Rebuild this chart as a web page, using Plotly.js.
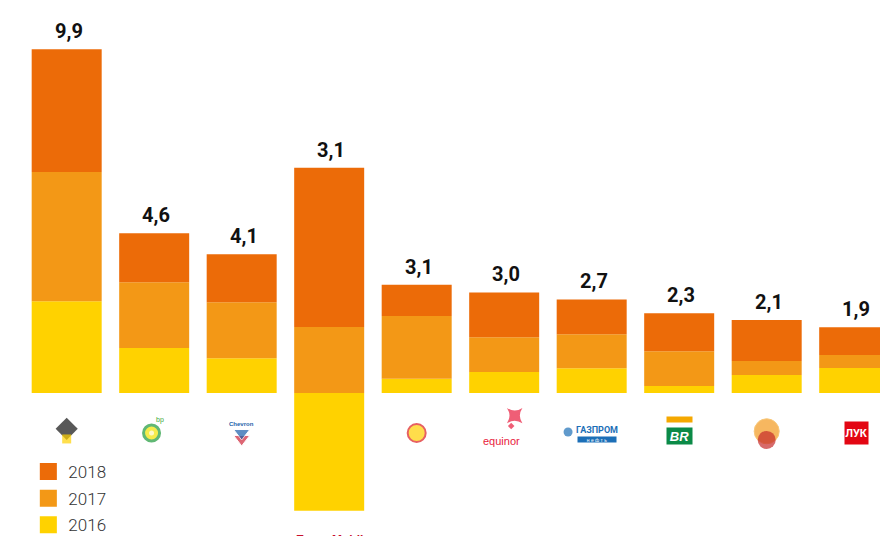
<!DOCTYPE html>
<html>
<head>
<meta charset="utf-8">
<script src="https://cdn.plot.ly/plotly-3.0.1.min.js"></script>
<style>html,body{margin:0;padding:0;background:#fff;}#chart{width:880px;height:536px;}</style>
</head>
<body>
<div id="chart"></div>
<script>
// ---- data ----
const companies = ["Роснефть", "BP", "Chevron", "ExxonMobil", "Shell", "Equinor", "Газпром нефть", "Petrobras", "PetroChina", "ЛУКОЙЛ"];
const years = ["2016", "2017", "2018"];
const v2016 = [2.64, 1.29, 1.00, -3.38, 0.41, 0.60, 0.71, 0.20, 0.52, 0.72];
const v2017 = [3.71, 1.89, 1.61, 1.90, 1.80, 1.00, 0.98, 1.00, 0.40, 0.37];
const v2018 = [3.53, 1.41, 1.38, 4.57, 0.90, 1.29, 1.00, 1.09, 1.18, 0.80];
const totals = [9.9, 4.6, 4.1, 3.1, 3.1, 3.0, 2.7, 2.3, 2.1, 1.9];

// ---- styles ----
const colors = {"2016": "#FFD200", "2017": "#F39816", "2018": "#EC6B08"};
const labelFont = 'Roboto, "Liberation Sans", sans-serif';
const LOGO_Y = -1.15;

const series = [v2016, v2017, v2018];
const ranks = {"2016": 3, "2017": 2, "2018": 1};
const traces = years.map((yr, k) => ({
  type: 'bar',
  name: yr,
  x: companies,
  y: series[k],
  marker: {color: colors[yr], line: {width: 0}},
  legendgroup: yr,
  legendrank: ranks[yr]
}));

// icon-like markers standing in for logos without text
const icons = [
  {c: 0, dy: 0.12, dx: 0, s: 'diamond', size: 17, color: '#111', lc: '#111', lw: 0},
  {c: 0, dy: -0.17, dx: 0, s: 'square', size: 9, color: '#FFD200', lc: '#FFD200', lw: 0},
  {c: 1, dy: 0, dx: -0.03, s: 'circle', size: 16, color: '#F2E400', lc: '#1E9B3A', lw: 3},
  {c: 1, dy: 0, dx: -0.03, s: 'circle', size: 5, color: '#ffffff', lc: '#ffffff', lw: 0},
  {c: 2, dy: -0.17, dx: 0, s: 'triangle-down', size: 14, color: '#D0263A', lc: '#ffffff', lw: 1},
  {c: 2, dy: 0.0, dx: 0, s: 'triangle-down', size: 14, color: '#1B5FAA', lc: '#ffffff', lw: 1},
  {c: 4, dy: 0, dx: 0, s: 'circle', size: 18, color: '#FFD000', lc: '#DD1D21', lw: 2},
  {c: 5, dy: 0.5, dx: 0.12, s: 'star-square', size: 14, color: '#E8193C', lc: '#E8193C', lw: 0},
  {c: 5, dy: 0.2, dx: 0.08, s: 'diamond', size: 5, color: '#E8193C', lc: '#E8193C', lw: 0},
  {c: 6, dy: 0.03, dx: -0.27, s: 'circle', size: 9, color: '#1C6FB7', lc: '#1C6FB7', lw: 0},
  {c: 8, dy: 0.05, dx: 0, s: 'circle', size: 25, color: '#F39A1E', lc: '#F6B040', lw: 1},
  {c: 8, dy: -0.2, dx: 0, s: 'circle', size: 18, color: '#C62B2B', lc: '#C62B2B', lw: 0}
];
traces.push({
  type: 'scatter', mode: 'markers', showlegend: false, hoverinfo: 'skip',
  x: icons.map(d => d.c + d.dx), xaxis: 'x2',
  y: icons.map(d => LOGO_Y + d.dy),
  marker: {symbol: icons.map(d => d.s), size: icons.map(d => d.size), color: icons.map(d => d.color),
           line: {color: icons.map(d => d.lc), width: icons.map(d => d.lw)}},
  cliponaxis: false
});

const fmt = v => v.toFixed(1).replace('.', ',');
const annotations = [];
companies.forEach((c, i) => {
  const top = [v2016[i], v2017[i], v2018[i]].filter(v => v > 0).reduce((a, b) => a + b, 0);
  annotations.push({x: c, y: top, text: fmt(totals[i]), showarrow: false, yanchor: 'bottom', yshift: 4, xshift: 2,
    font: {family: labelFont, size: 20, color: '#111', weight: 'bold'}});
});
// text parts of logos
const A = (o) => annotations.push(Object.assign({showarrow: false, xref: 'x2', yref: 'y'}, o));
A({x: 1.07, y: LOGO_Y + 0.37, text: 'bp', font: {family: 'Arial', size: 7, color: '#3DAA3D'}});
A({x: 2, y: LOGO_Y + 0.27, text: 'Chevron', font: {family: 'Arial', size: 6, color: '#1B5FAA', weight: 'bold'}});
A({x: 3, y: -4.109, yanchor: 'top', yshift: 5, text: 'ExxonMobil', font: {family: 'Arial', size: 12, color: '#C8102E', weight: 'bold'}});
A({x: 4.97, y: LOGO_Y - 0.24, text: 'equinor', font: {family: 'Arial', size: 11, color: '#E8193C'}});
A({x: 6.06, y: LOGO_Y + 0.1, text: 'ГАЗПРОМ', font: {family: labelFont, size: 9, color: '#1C6FB7', weight: 'bold'}});
A({x: 6.06, y: LOGO_Y - 0.2, text: 'н е ф т ь', bgcolor: '#1C6FB7', width: 38, height: 5, borderpad: 0, font: {family: 'Arial', size: 5, color: '#ffffff'}});
A({x: 7, y: LOGO_Y + 0.4, text: ' ', bgcolor: '#F5A800', width: 25, height: 5, borderpad: 0, font: {size: 4}});
A({x: 7, y: LOGO_Y - 0.08, text: '<i>BR</i>', bgcolor: '#0B8A47', width: 25, height: 16, borderpad: 0, font: {family: 'Arial', size: 13, color: '#ffffff', weight: 'bold'}});
A({x: 9.03, y: LOGO_Y, text: 'ЛУК', bgcolor: '#E30613', width: 23, height: 22, borderpad: 0, font: {family: labelFont, size: 11, color: '#ffffff', weight: 'bold'}});

const layout = {
  width: 880, height: 536,
  margin: {l: 0, r: 0, t: 0, b: 0},
  paper_bgcolor: '#ffffff', plot_bgcolor: '#ffffff',
  barmode: 'relative', bargap: 0.2,
  xaxis: {type: 'category', range: [-0.762, 9.295], showticklabels: false, showgrid: false, zeroline: false, showline: false, ticks: ''},
  xaxis2: {type: 'linear', range: [-0.762, 9.295], overlaying: 'x', visible: false},
  yaxis: {range: [-4.109, 11.293], showticklabels: false, showgrid: false, zeroline: false, showline: false, ticks: ''},
  showlegend: true,
  legend: {x: 0.0322, xanchor: 'left', y: 0, yanchor: 'bottom', traceorder: 'grouped', tracegroupgap: 1.5,
           bgcolor: 'rgba(0,0,0,0)', font: {family: labelFont, size: 17, color: '#333', weight: 300}},
  annotations: annotations,
  hovermode: false
};
Plotly.newPlot('chart', traces, layout, {displayModeBar: false, staticPlot: true}).then(gd => {
  gd.querySelectorAll('.legend .legendpoints path').forEach(p => {
    p.setAttribute('transform', (p.getAttribute('transform') || '') + ' scale(1.42)');
  });
  const lg = gd.querySelector('g.legend');
  if (lg) {
    const m = /translate\(\s*([-\d.e]+)[ ,]+([-\d.e]+)\s*\)/.exec(lg.getAttribute('transform') || '');
    if (m) lg.setAttribute('transform', 'translate(' + m[1] + ',' + (parseFloat(m[2]) + 7) + ')');
  }
});
</script>
</body>
</html>
